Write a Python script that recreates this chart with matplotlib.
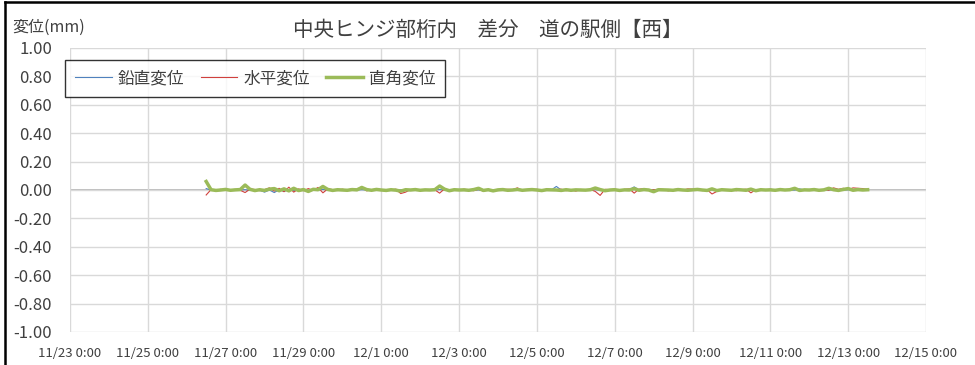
import matplotlib
matplotlib.use("Agg")
import matplotlib.pyplot as plt
from matplotlib.lines import Line2D
import numpy as np
import pandas as pd

plt.rcParams['font.family'] = ['Noto Sans CJK JP', 'DejaVu Sans']

# 観測データ (3時間ごと, 単位 µm) 11/26 12:00 ～ 12/13 12:00
start_time = "2023-11-26 12:00"
vert_um = [  # 鉛直変位
    10, 0, -2, 2, 0, -1, 2, 0,
    2, -3, 1, -2, -15, 0, -18, 2,
    -10, 3, -5, 0, 2, -12, 1, 0,
    4, 0, -2, 1, 0, 2, -1, 0,
    2, 0, 3, -2, 0, 1, -1, 0,
    0, 2, -2, 1, 0, -1, 2, 0,
    3, 0, -6, 1, 0, 2, -1, 0,
    0, -2, 1, -8, 0, 1, 0, -1,
    0, 2, -1, 0, 3, 0, -2, 1,
    25, 0, -2, 1, 0, 2, -1, 0,
    2, 0, -1, 0, 2, -1, 0, 1,
    22, 0, 3, -2, 0, 1, 0, -1,
    0, 5, -1, 0, 2, 4, 0, -1,
    2, 0, -2, 1, 0, 3, -1, 0,
    0, 2, -1, 0, 5, 0, -2, 1,
    0, -1, 8, 0, 2, -1, 0, 1,
    0, 2, -1, 0, 1, 0, 2, 0,
    0,
]
horiz_um = [  # 水平変位
    -35, 3, -2, 5, -3, 2, 4, -2,
    -18, 6, 4, -5, 3, 15, -8, 12,
    -12, 20, -15, 8, -5, 10, -3, 18,
    -20, 8, 3, -4, 6, -2, 10, 4,
    22, -6, 3, 5, -4, 2, 0, 6,
    -25, -15, 3, 0, 2, -4, 3, 1,
    -22, 8, -3, 4, -2, 6, 0, -5,
    5, -8, 3, 0, -4, 2, 5, 3,
    15, -4, 2, 0, 5, -3, 6, 2,
    3, 6, -5, 2, -8, 4, 0, 3,
    -10, -38, 5, 2, 6, -3, 4, 8,
    -22, 6, 10, -3, 2, 5, 4, -6,
    3, 5, -2, 8, 6, 3, -4, 2,
    -28, -10, 4, 0, 3, -5, 2, 6,
    -20, 3, -4, 2, 5, 0, -3, 2,
    3, 10, -2, 4, 0, 6, -3, 2,
    -2, 15, 5, 12, 3, 15, 12, 10,
    5,
]
right_um = [  # 直角変位
    60, 2, -3, 0, 4, -2, 1, 3,
    35, 5, -4, 2, -3, 6, 10, -5,
    8, -6, 12, -4, 3, -10, 5, 2,
    25, 4, -3, 2, 0, -2, 3, 1,
    18, 3, -2, 4, 0, -3, 2, -1,
    -8, 2, 0, 3, -2, 1, 0, 2,
    28, 6, -5, 2, 0, 1, -2, 3,
    12, -3, 2, -6, 1, 3, -2, 0,
    4, -2, 1, 3, 0, -4, 2, 1,
    0, -3, 2, -2, 1, 0, -1, 2,
    14, 3, -5, 0, 2, -3, 1, 0,
    10, -2, 3, 0, -12, 2, 1, 0,
    -2, 3, 0, -2, 1, 4, 0, -3,
    8, -4, 2, 0, -2, 3, 1, -2,
    6, -5, 2, 0, 1, -2, 3, 0,
    2, 12, -3, 1, 0, 3, -2, 1,
    12, 2, -3, 4, 10, -2, 3, 0,
    2,
]

tick_dates = pd.date_range("2023-11-23", "2023-12-15", freq="2D")
tick_labels = [f"{d.month}/{d.day} 0:00" for d in tick_dates]
y_ticks = np.round(np.arange(-1.0, 1.01, 0.2), 2)

times = pd.date_range(start_time, periods=len(vert_um), freq="3h")
vert = np.array(vert_um) / 1000
horiz = np.array(horiz_um) / 1000
right = np.array(right_um) / 1000

W, H = 975, 365
fig = plt.figure(figsize=(W / 100, H / 100), dpi=100)
ax = fig.add_axes([70 / W, 1 - 332 / H, 856 / W, 284 / H])

ax.plot(times, vert, color="#4F81BD", lw=0.8, label="鉛直変位")
ax.plot(times, horiz, color="#D0403D", lw=0.8, label="水平変位")
ax.plot(times, right, color="#9BBB59", lw=2.5, label="直角変位")
ax.axhline(0, color="#B0B0B0", lw=1.2, zorder=0.5)

ax.set_xlim(tick_dates[0], tick_dates[-1])
ax.set_ylim(-1.0, 1.0)
ax.set_xticks(tick_dates)
ax.set_xticklabels(tick_labels)
ax.set_yticks(y_ticks)
ax.set_yticklabels([f"{abs(v) if v == 0 else v:.2f}" for v in y_ticks])
ax.tick_params(axis="x", length=0, pad=11, labelsize=9.5, labelcolor="#404040")
ax.tick_params(axis="y", length=0, pad=13, labelsize=12, labelcolor="#404040")
ax.grid(True, color="#D9D9D9", lw=1)
ax.set_axisbelow(True)
for s in ax.spines.values():
    s.set_visible(False)

fig.text(488 / W, 1 - 30 / H, "中央ヒンジ部桁内　差分　道の駅側【西】",
         ha="center", va="center", fontsize=14.8, color="#404040")
fig.text(12 / W, 1 - 27 / H, "変位(mm)", ha="left", va="center",
         fontsize=11.5, color="#404040")

leg = fig.legend(loc="upper left", bbox_to_anchor=(65 / W, 1 - 60 / H), ncol=3,
                 frameon=True, fancybox=False, fontsize=12, handlelength=2.2,
                 handletextpad=0.35, columnspacing=1.0, borderpad=0.6,
                 borderaxespad=0)
leg.get_frame().set_edgecolor("black")
leg.get_frame().set_linewidth(1.0)
for t in leg.get_texts():
    t.set_color("#404040")

# 外枠 (左と上だけ見える)
fig.lines.append(Line2D([4.5 / W, 4.5 / W], [0, 1 - 1.5 / H],
                        transform=fig.transFigure, color="black", lw=1.8))
fig.lines.append(Line2D([4.5 / W, 1], [1 - 1.5 / H, 1 - 1.5 / H],
                        transform=fig.transFigure, color="black", lw=1.8))

fig.savefig("out.png", dpi=100)
